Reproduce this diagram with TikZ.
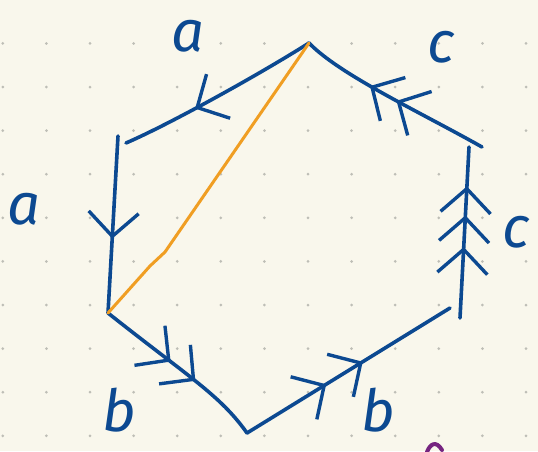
\documentclass[tikz,border=0pt]{standalone}
\usepackage{fontspec}
\setmainfont{Fira Sans}
\usetikzlibrary{arrows.meta, decorations.markings}
\definecolor{paper}{RGB}{249,247,236}
\definecolor{ink}{RGB}{12,73,145}
\definecolor{marker}{RGB}{240,158,35}
\definecolor{dotgray}{RGB}{190,190,182}
\definecolor{plum}{RGB}{118,36,128}

\newcommand{\thedots}{
    \fill[paper] (0,0) rectangle (538,451);
    \foreach \i in {0,...,12}
        \foreach \j in {0,...,9}
            \fill[dotgray] (2.8+43.6*\i, 43.4+43.6*\j) circle (1.5pt);
}
\tikzset{x=1pt, y=-1pt,
    edge/.style={draw=ink, line width=3.6pt, line cap=round, line join=round},
    chev/.tip={Straight Barb[length=24pt, width=50pt, line width=3.4pt]},
    arrowsat/.style={postaction={decorate}, decoration={markings, #1}},
    lbl/.style={text=ink, inner sep=0pt, font=\itshape\fontsize{58}{58}\selectfont}}

\begin{document}
\begin{tikzpicture}
                \thedots
                \useasboundingbox (0,0) rectangle (538,451);
                % corners of the hexagon
                \coordinate (vT) at (309,43);
                \coordinate (vUL) at (126,143);
                \coordinate (vULb) at (118,136);
                \coordinate (vLL) at (108,313);
                \coordinate (vB) at (247,433);
                \coordinate (vLR) at (450,308);
                \coordinate (vLRb) at (460,318);
                \coordinate (vUR) at (469,147);
                \coordinate (vURb) at (482,147);
                % edges
                \draw[edge, arrowsat={mark=at position 0.63 with {\arrow{chev}}}]
                    (vT) .. controls (260,74) and (170,124) .. (vUL);
                \draw[edge, arrowsat={mark=at position 0.58 with {\arrow{chev}}}]
                    (vULb) -- (vLL);
                \draw[edge, arrowsat={mark=at position 0.43 with {\arrow{chev}},
                                      mark=at position 0.6 with {\arrow{chev}}}]
                    (vLL) .. controls (190,378) and (220,395) .. (vB);
                \draw[edge, arrowsat={mark=at position 0.39 with {\arrow{chev}},
                                      mark=at position 0.57 with {\arrow{chev}}}]
                    (vB) -- (vLR);
                \draw[edge, arrowsat={mark=at position 0.415 with {\arrow{chev}},
                                      mark=at position 0.6 with {\arrow{chev}},
                                      mark=at position 0.77 with {\arrow{chev}}}]
                    (vLRb) -- (vUR);
                \draw[edge, arrowsat={mark=at position 0.48 with {\arrow{chev}},
                                      mark=at position 0.63 with {\arrow{chev}}}]
                    (vURb) .. controls (420,112) and (340,75) .. (vT);
                % diagonal
                \draw[marker, line width=3pt, line cap=round, line join=round]
                    (vT) -- (165,252) -- (150,266) -- (vLL);
                % labels
                \node[lbl] (la1) at (188,36) {a};
                \node[lbl] (la2) at (24,209) {a};
                \node[lbl] (lb1) at (119,410) {b};
                \node[lbl] (lb2) at (378,410) {b};
                \node[lbl] (lc1) at (441,47) {c};
                \node[lbl] (lc2) at (516,232) {c};
                \draw[plum, line width=4pt, line cap=round]
                    (427,452) .. controls (430,444) and (436,440) .. (442,450);
            \end{tikzpicture}
\end{document}
